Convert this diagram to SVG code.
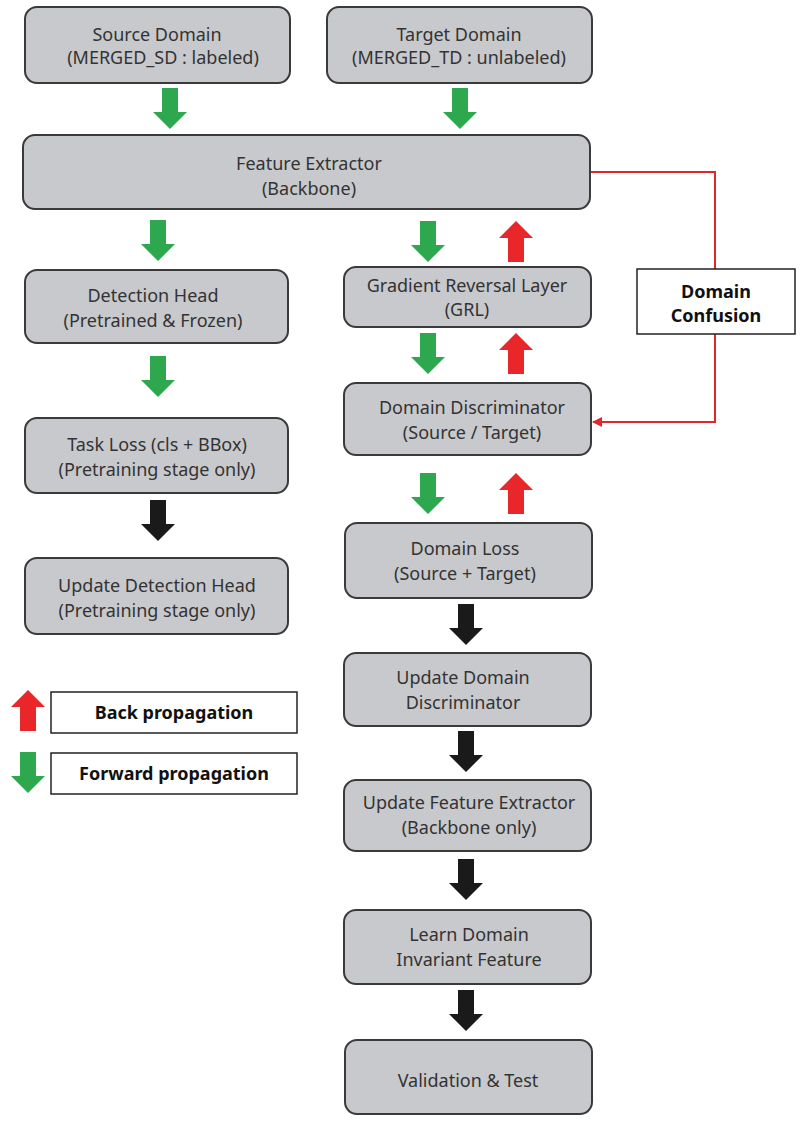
<svg xmlns="http://www.w3.org/2000/svg" xmlns:xlink="http://www.w3.org/1999/xlink" width="800" height="1122" viewBox="0 0 800 1122">
<style>
.n{fill:#c8c9cc;stroke:#3a3a3a;stroke-width:2}
.t{font-family:"Noto Sans","Open Sans",sans-serif;font-size:18px;fill:#333;text-anchor:middle}
.b{font-family:"Noto Sans","Open Sans",sans-serif;font-size:18px;font-weight:bold;fill:#111;text-anchor:middle}
.w{fill:#fff;stroke:#222;stroke-width:1.5}
</style>
<defs>
<path id="dn" d="M-8,0 H8 V24 H17 L0,41 L-17,24 H-8 Z"/>
<path id="up" d="M-8,41 H8 V17 H17 L0,0 L-17,17 H-8 Z"/>
<marker id="ra" markerWidth="10" markerHeight="10" refX="9" refY="5" orient="auto" markerUnits="userSpaceOnUse"><path d="M0,0 L10,5 L0,10 Z" fill="#e0262b"/></marker>
</defs>
<g id="connectors">
<g fill="#2ea84f">
<use href="#dn" x="170" y="88"/><use href="#dn" x="460" y="88"/>
<use href="#dn" x="158" y="220"/><use href="#dn" x="428" y="221"/>
<use href="#dn" x="428" y="333"/><use href="#dn" x="428" y="473"/>
<use href="#dn" x="158" y="356"/>
<use href="#dn" x="28" y="752"/>
</g>
<g fill="#e9262a">
<use href="#up" x="516" y="221"/><use href="#up" x="516" y="333"/><use href="#up" x="516" y="473"/>
<use href="#up" x="28" y="690"/>
</g>
<g fill="#1a1a1a">
<use href="#dn" x="158" y="500"/><use href="#dn" x="466" y="604"/><use href="#dn" x="466" y="731"/>
<use href="#dn" x="466" y="859"/><use href="#dn" x="466" y="990"/>
</g>
<path d="M590,172 H715 V269 M715,334 V422 H593" fill="none" stroke="#e0262b" stroke-width="2" marker-end="url(#ra)"/>
</g>
<g id="source"><rect class="n" x="25" y="7" width="265" height="76" rx="12"/><text class="t" x="157" y="41">Source Domain</text><text class="t" x="163" y="64" font-size="16">(MERGED_SD : labeled)</text></g>
<g id="target"><rect class="n" x="327" y="7" width="265" height="76" rx="12"/><text class="t" x="459" y="41">Target Domain</text><text class="t" x="459" y="64" font-size="16">(MERGED_TD : unlabeled)</text></g>
<g id="fe"><rect class="n" x="23" y="135" width="567" height="74" rx="12"/><text class="t" x="309" y="170">Feature Extractor</text><text class="t" x="309" y="195">(Backbone)</text></g>
<g id="dh"><rect class="n" x="25" y="270" width="263" height="73" rx="12"/><text class="t" x="153" y="302">Detection Head</text><text class="t" x="153" y="327">(Pretrained &amp; Frozen)</text></g>
<g id="grl"><rect class="n" x="344" y="267" width="247" height="60" rx="12"/><text class="t" x="467" y="292">Gradient Reversal Layer</text><text class="t" x="467" y="316">(GRL)</text></g>
<g id="dd"><rect class="n" x="344" y="383" width="247" height="72" rx="12"/><text class="t" x="472" y="414">Domain Discriminator</text><text class="t" x="472" y="439">(Source / Target)</text></g>
<g id="tl"><rect class="n" x="25" y="418" width="263" height="75" rx="12"/><text class="t" x="157" y="451">Task Loss (cls + BBox)</text><text class="t" x="157" y="476">(Pretraining stage only)</text></g>
<g id="udh"><rect class="n" x="25" y="558" width="263" height="76" rx="12"/><text class="t" x="157" y="592">Update Detection Head</text><text class="t" x="157" y="617">(Pretraining stage only)</text></g>
<g id="dl"><rect class="n" x="345" y="523" width="247" height="75" rx="12"/><text class="t" x="465" y="555">Domain Loss</text><text class="t" x="465" y="580">(Source + Target)</text></g>
<g id="udd"><rect class="n" x="344" y="653" width="247" height="73" rx="12"/><text class="t" x="463" y="684">Update Domain</text><text class="t" x="463" y="709">Discriminator</text></g>
<g id="ufe"><rect class="n" x="344" y="780" width="247" height="71" rx="12"/><text class="t" x="469" y="809">Update Feature Extractor</text><text class="t" x="469" y="834">(Backbone only)</text></g>
<g id="ldi"><rect class="n" x="344" y="910" width="247" height="74" rx="12"/><text class="t" x="469" y="941">Learn Domain</text><text class="t" x="469" y="966">Invariant Feature</text></g>
<g id="vt"><rect class="n" x="345" y="1040" width="247" height="74" rx="12"/><text class="t" x="468" y="1087">Validation &amp; Test</text></g>
<g id="dc"><rect class="w" x="637" y="269" width="158" height="65"/><text class="b" x="716" y="298">Domain</text><text class="b" x="716" y="322">Confusion</text></g>
<g id="lbp"><rect class="w" x="51" y="692" width="246" height="41"/><text class="b" x="174" y="719">Back propagation</text></g>
<g id="lfp"><rect class="w" x="51" y="753" width="246" height="41"/><text class="b" x="174" y="780">Forward propagation</text></g>
</svg>
